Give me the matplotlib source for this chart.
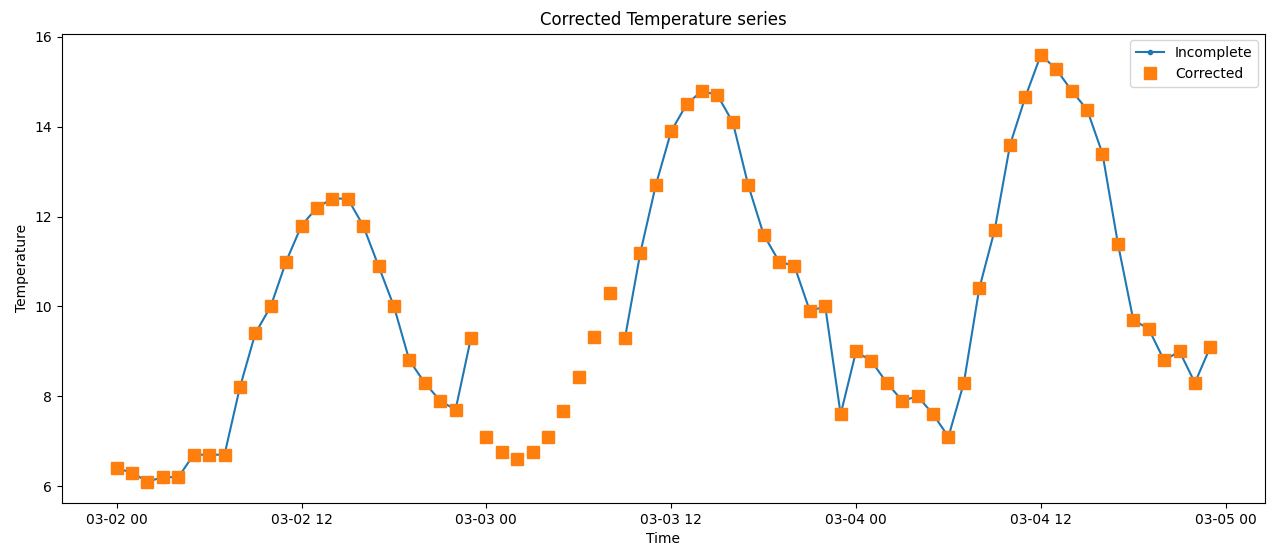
import numpy as np
import pandas as pd
import matplotlib
matplotlib.use("Agg")
import matplotlib.pyplot as plt
import matplotlib.dates as mdates

# hourly readings, 03-02 00:00 .. 03-04 23:00
times = pd.date_range("2021-03-02 00:00", periods=72, freq="h")

corrected = [
    6.4, 6.3, 6.1, 6.2, 6.2, 6.7, 6.7, 6.7, 8.2, 9.4, 10.0, 11.0,
    11.8, 12.2, 12.4, 12.4, 11.8, 10.9, 10.0, 8.8, 8.3, 7.9, 7.7, 9.3,
    7.1, 6.75, 6.6, 6.75, 7.1, 7.67, 8.43, 9.33, 10.3, 9.3, 11.2, 12.7,
    13.9, 14.5, 14.8, 14.7, 14.1, 12.7, 11.6, 11.0, 10.9, 9.9, 10.0, 7.6,
    9.0, 8.78, 8.3, 7.9, 8.0, 7.6, 7.1, 8.3, 10.4, 11.7, 13.6, 14.67,
    15.6, 15.28, 14.8, 14.38, 13.4, 11.4, 9.7, 9.5, 8.8, 9.0, 8.3, 9.1,
]

# the incomplete series is missing 03-03 00:00 .. 03-03 08:00
missing = list(range(24, 33))
incomplete = [np.nan if i in missing else v for i, v in enumerate(corrected)]

fig = plt.figure(figsize=(12.73, 5.52), dpi=100)
ax = fig.add_axes([62 / 1273, 1 - 503 / 552, (1265 - 62) / 1273, (503 - 33.5) / 552])

ax.plot(times, incomplete, marker=".", label="Incomplete")
ax.plot(times, corrected, marker="s", linestyle="none", markersize=8,
        label="Corrected")

ax.xaxis.set_major_locator(mdates.HourLocator(byhour=[0, 12]))
ax.xaxis.set_major_formatter(mdates.DateFormatter("%m-%d %H"))

ax.set_title("Corrected Temperature series")
ax.set_xlabel("Time")
ax.set_ylabel("Temperature")
ax.legend(loc="upper right")

fig.savefig("out.png", dpi=100)
